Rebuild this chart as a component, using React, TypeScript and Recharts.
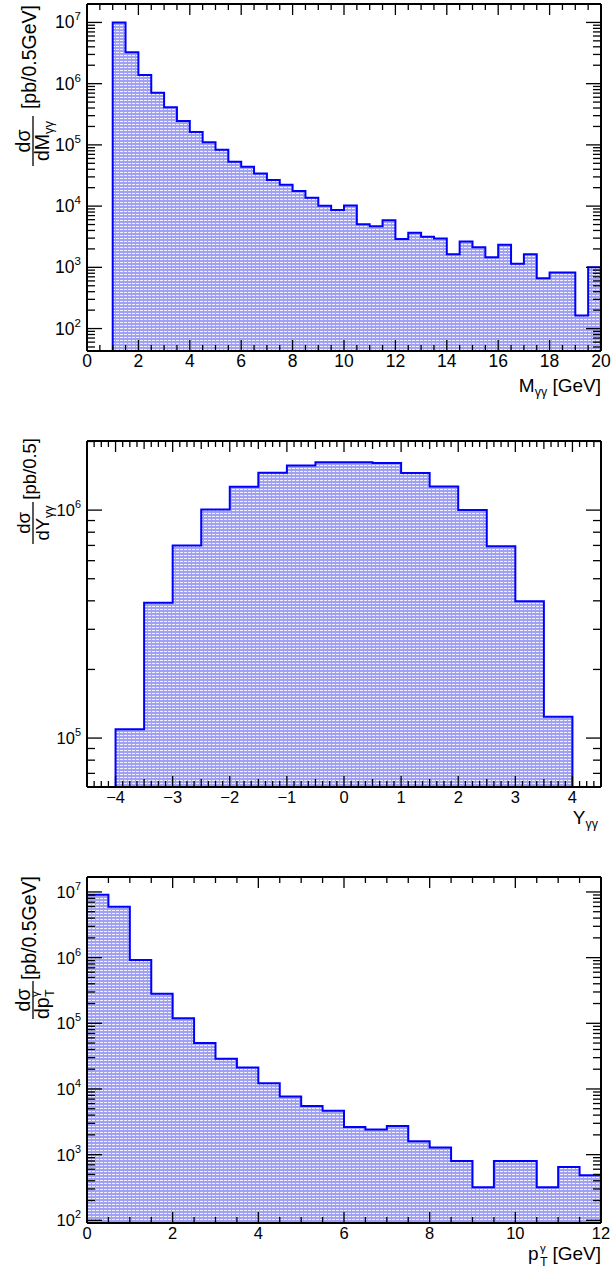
import React from "react";
import { ComposedChart, Area, XAxis, YAxis } from "recharts";

const FONT = '"Liberation Sans", Arial, Helvetica, sans-serif';
const LINE = "#0000ff";

// d sigma / d M_gg, 0.5 GeV bins from 0 to 20 GeV
const massEdges = [
  0, 0.5, 1, 1.5, 2, 2.5, 3, 3.5, 4, 4.5, 5, 5.5, 6, 6.5, 7, 7.5, 8, 8.5, 9, 9.5, 10,
  10.5, 11, 11.5, 12, 12.5, 13, 13.5, 14, 14.5, 15, 15.5, 16, 16.5, 17, 17.5, 18, 18.5, 19, 19.5, 20,
];
const massXsec = [
  0, 0, 1.0e7, 3.27e6, 1.39e6, 7.1e5, 4.1e5, 2.45e5, 1.62e5, 1.1e5,
  8.3e4, 5.3e4, 4.4e4, 3.4e4, 2.67e4, 2.24e4, 1.76e4, 1.37e4, 1.01e4, 8.6e3,
  1.02e4, 5.07e3, 4.7e3, 5.9e3, 2.9e3, 3.66e3, 3.15e3, 2.96e3, 1.64e3, 2.64e3,
  2.13e3, 1.46e3, 2.33e3, 1.14e3, 1.64e3, 661, 822, 822, 164, 1000,
];
const massXTicks = [0, 2, 4, 6, 8, 10, 12, 14, 16, 18, 20];

// d sigma / d Y_gg, 0.5 bins from -4.5 to 4.5
const rapEdges = [-4.5, -4, -3.5, -3, -2.5, -2, -1.5, -1, -0.5, 0, 0.5, 1, 1.5, 2, 2.5, 3, 3.5, 4, 4.5];
const rapXsec = [
  0, 1.094e5, 3.92e5, 7.0e5, 1.007e6, 1.265e6, 1.46e6, 1.57e6, 1.62e6,
  1.62e6, 1.61e6, 1.455e6, 1.27e6, 1.0e6, 6.95e5, 3.98e5, 1.24e5, 0,
];
const rapXTicks = [-4, -3, -2, -1, 0, 1, 2, 3, 4];

// d sigma / d pT, 0.5 GeV bins from 0 to 12 GeV
const ptEdges = [0, 0.5, 1, 1.5, 2, 2.5, 3, 3.5, 4, 4.5, 5, 5.5, 6, 6.5, 7, 7.5, 8, 8.5, 9, 9.5, 10, 10.5, 11, 11.5, 12];
const ptXsec = [
  9.1e6, 5.97e6, 9.2e5, 2.83e5, 1.19e5, 5.0e4, 2.88e4, 2.13e4, 1.22e4, 7.7e3, 5.5e3, 4.65e3,
  2.64e3, 2.41e3, 2.73e3, 1.6e3, 1.29e3, 798, 320, 798, 798, 320, 646, 487,
];
const ptXTicks = [0, 2, 4, 6, 8, 10, 12];

const LOG_MULT = [1, 2, 3, 4, 5, 6, 7, 8, 9];

function histPoints(edges: number[], vals: number[], floor: number) {
  const pts = vals.map((v, i) => ({ x: edges[i], y: v > 0 ? v : floor }));
  pts.push({ x: edges[edges.length - 1], y: pts[pts.length - 1].y });
  return pts;
}

function logTicks(min: number, max: number) {
  const out: number[] = [];
  for (let e = Math.floor(Math.log10(min)); e <= Math.ceil(Math.log10(max)); e++) {
    for (const m of LOG_MULT) {
      const v = m * Math.pow(10, e);
      if (v >= min && v <= max) out.push(v);
    }
  }
  return out;
}

function stepTicks(lo: number, hi: number, step: number) {
  const out: number[] = [];
  const n = Math.round((hi - lo) / step);
  for (let i = 0; i <= n; i++) out.push(+(lo + i * step).toFixed(4));
  return out;
}

const isDecade = (v: number) => Math.abs(Math.log10(v) - Math.round(Math.log10(v))) < 1e-6;

function YTick(props: any) {
  const { x, y, payload, side, fs } = props;
  const v = payload.value;
  const major = isDecade(v);
  const len = major ? 15 : 8;
  const dir = side === "left" ? 1 : -1;
  return (
    <g>
      <line x1={x} x2={x + dir * len} y1={y} y2={y} stroke="#000" strokeWidth={1.3} />
      {side === "left" && major && (
        <text x={x - 6} y={y + 6} textAnchor="end" fontSize={fs} fontFamily={FONT} fill="#000">
          10
          <tspan dy={-8} fontSize={fs * 0.66}>
            {Math.round(Math.log10(v))}
          </tspan>
        </text>
      )}
    </g>
  );
}

function XTick(props: any) {
  const { x, y, payload, side, fs, labels, medium } = props;
  const v = payload.value;
  const major = labels.includes(v);
  const mid = medium && !major && Math.abs(v * 2 - Math.round(v * 2)) < 1e-6;
  const len = major ? 11 : mid ? 8 : 6;
  const dir = side === "bottom" ? -1 : 1;
  const txt = v < 0 ? "\u2212" + Math.abs(v) : String(v);
  return (
    <g>
      <line x1={x} x2={x} y1={y} y2={y + dir * len} stroke="#000" strokeWidth={1.3} />
      {side === "bottom" && major && (
        <text x={x} y={y + 16} textAnchor="middle" fontSize={fs} fontFamily={FONT} fill="#000">
          {txt}
        </text>
      )}
    </g>
  );
}

function Hatch({ id }: { id: string }) {
  return (
    <defs>
      <pattern id={id} width="4" height="3" patternUnits="userSpaceOnUse">
        <rect width="4" height="3" fill="#a0a0f5" />
        <rect x="0" y="1" width="3" height="1" fill="#ffffff" opacity="0.85" />
      </pattern>
    </defs>
  );
}

type PanelProps = {
  id: string;
  height: number;
  top: number;
  bottom: number;
  edges: number[];
  vals: number[];
  yDomain: [number, number];
  xLabels: number[];
  xMinor: number[];
  medium?: boolean;
  fs: number;
  children?: React.ReactNode;
};

function HistPanel(p: PanelProps) {
  const data = histPoints(p.edges, p.vals, p.yDomain[0]);
  const xDomain: [number, number] = [p.edges[0], p.edges[p.edges.length - 1]];
  const yTicks = logTicks(p.yDomain[0], p.yDomain[1]);
  const axisLine = { stroke: "#000", strokeWidth: 2 };
  return (
    <div style={{ position: "relative", width: 612, height: p.height }}>
      <ComposedChart width={612} height={p.height} data={data} margin={{ top: 0, right: 0, bottom: 0, left: 0 }}>
        <Hatch id={p.id} />
        <Area
          xAxisId="b"
          yAxisId="l"
          dataKey="y"
          type="stepAfter"
          stroke={LINE}
          strokeWidth={2}
          fill={`url(#${p.id})`}
          fillOpacity={1}
          dot={false}
          activeDot={false}
          isAnimationActive={false}
        />
        <XAxis
          xAxisId="b"
          dataKey="x"
          type="number"
          domain={xDomain}
          allowDataOverflow
          ticks={p.xMinor}
          interval={0}
          tickSize={0}
          tickMargin={0}
          tickLine={false}
          axisLine={axisLine}
          height={p.bottom}
          tick={<XTick side="bottom" fs={p.fs} labels={p.xLabels} medium={p.medium} />}
        />
        <XAxis
          xAxisId="t"
          orientation="top"
          dataKey="x"
          type="number"
          domain={xDomain}
          allowDataOverflow
          ticks={p.xMinor}
          interval={0}
          tickSize={0}
          tickMargin={0}
          tickLine={false}
          axisLine={axisLine}
          height={p.top}
          tick={<XTick side="top" fs={p.fs} labels={p.xLabels} medium={p.medium} />}
        />
        <YAxis
          yAxisId="l"
          type="number"
          scale="log"
          domain={p.yDomain}
          allowDataOverflow
          ticks={yTicks}
          interval={0}
          tickSize={0}
          tickMargin={0}
          tickLine={false}
          axisLine={axisLine}
          width={87}
          tick={<YTick side="left" fs={p.fs} />}
        />
        <YAxis
          yAxisId="r"
          orientation="right"
          type="number"
          scale="log"
          domain={p.yDomain}
          allowDataOverflow
          ticks={yTicks}
          interval={0}
          tickSize={0}
          tickMargin={0}
          tickLine={false}
          axisLine={axisLine}
          width={11}
          tick={<YTick side="right" fs={p.fs} />}
        />
      </ComposedChart>
      <svg
        width={612}
        height={p.height}
        style={{ position: "absolute", left: 0, top: 0, pointerEvents: "none", overflow: "visible" }}
        fontFamily={FONT}
        fill="#000"
      >
        {p.children}
      </svg>
    </div>
  );
}

export default function App() {
  return (
    <div style={{ position: "absolute", left: 0, top: 0, width: 612, height: 1274, background: "#fff" }}>
      <HistPanel
        id="hm"
        height={410}
        top={4}
        bottom={59}
        edges={massEdges}
        vals={massXsec}
        yDomain={[43, 2.0e7]}
        xLabels={massXTicks}
        xMinor={massEdges}
        fs={17.5}
      >
        <g transform="translate(36,5) rotate(-90)">
          <text x={0} y={0} textAnchor="end" fontSize={19.5}>[pb/0.5GeV]</text>
          <text x={-136} y={-6} textAnchor="middle" fontSize={19.5}>dσ</text>
          <line x1={-161} x2={-111} y1={-3} y2={-3} stroke="#000" strokeWidth={1.3} />
          <text x={-136} y={13} textAnchor="middle" fontSize={19.5}>
            dM<tspan dy={4} fontSize={13}>γγ</tspan>
          </text>
        </g>
        <text x={601} y={392} textAnchor="end" fontSize={19}>
          M<tspan dy={4} fontSize={12.5}>γγ</tspan>
          <tspan dy={-4}> [GeV]</tspan>
        </text>
      </HistPanel>
      <HistPanel
        id="hy"
        height={430}
        top={31}
        bottom={53}
        edges={rapEdges}
        vals={rapXsec}
        yDomain={[6.1e4, 2.01e6]}
        xLabels={rapXTicks}
        xMinor={stepTicks(-4.5, 4.5, 0.125)}
        medium
        fs={16.5}
      >
        <g transform="translate(36,28) rotate(-90)">
          <text x={0} y={0} textAnchor="end" fontSize={18.5}>[pb/0.5]</text>
          <text x={-85} y={-6} textAnchor="middle" fontSize={18.5}>dσ</text>
          <line x1={-106} x2={-64} y1={-3} y2={-3} stroke="#000" strokeWidth={1.3} />
          <text x={-85} y={13} textAnchor="middle" fontSize={18.5}>
            dY<tspan dy={4} fontSize={12.5}>γγ</tspan>
          </text>
        </g>
        <text x={598} y={414} textAnchor="end" fontSize={19}>
          Y<tspan dy={4} fontSize={12.5}>γγ</tspan>
        </text>
      </HistPanel>
      <HistPanel
        id="hp"
        height={434}
        top={37}
        bottom={51}
        edges={ptEdges}
        vals={ptXsec}
        yDomain={[91, 1.69e7]}
        xLabels={ptXTicks}
        xMinor={ptEdges}
        fs={16.5}
      >
        <g transform="translate(36,36) rotate(-90)">
          <text x={0} y={0} textAnchor="end" fontSize={19.5}>[pb/0.5GeV]</text>
          <text x={-124} y={-6} textAnchor="middle" fontSize={19.5}>dσ</text>
          <line x1={-143} x2={-105} y1={-3} y2={-3} stroke="#000" strokeWidth={1.3} />
          <text x={-143} y={13} fontSize={19.5}>dp</text>
          <text x={-121} y={3} fontSize={11.5}>γ</text>
          <text x={-121} y={18} fontSize={12.5}>T</text>
        </g>
        <text x={528} y={420} fontSize={19}>p</text>
        <text x={540} y={412} fontSize={11.5}>γ</text>
        <text x={540} y={426} fontSize={12.5}>T</text>
        <text x={601} y={420} textAnchor="end" fontSize={19}>[GeV]</text>
      </HistPanel>
    </div>
  );
}
